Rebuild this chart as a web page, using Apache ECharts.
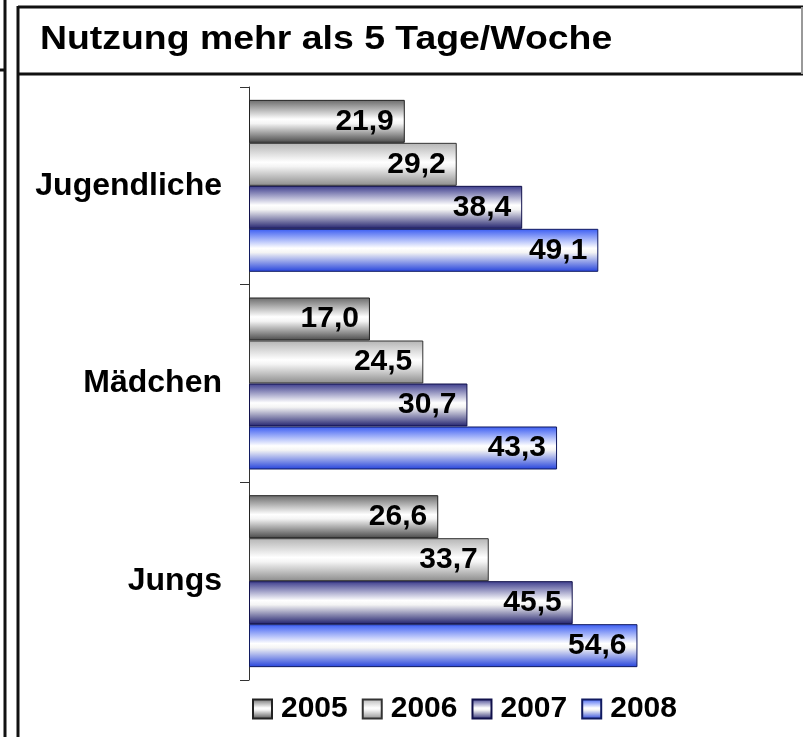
<!DOCTYPE html>
<html>
<head>
<meta charset="utf-8">
<style>
  html, body { margin: 0; padding: 0; background: #fff; }
  #chart { width: 803px; height: 737px; }
</style>
<script src="https://cdn.jsdelivr.net/npm/echarts@6/dist/echarts.min.js"></script>
</head>
<body>
<div id="chart"></div>
<script>
const titleText = 'Nutzung mehr als 5 Tage/Woche';
const groups = ['Jugendliche', 'Mädchen', 'Jungs'];
const years = ['2005', '2006', '2007', '2008'];
const v2005 = [21.9, 17.0, 26.6];
const v2006 = [29.2, 24.5, 33.7];
const v2007 = [38.4, 30.7, 45.5];
const v2008 = [49.1, 43.3, 54.6];
const values = [v2005, v2006, v2007, v2008];

// top edge, bottom edge, border of the shaded bars
const shades = [
  ['#6a6a6a', '#4a4a4a', '#222'],
  ['#b4b4b4', '#8c8c8c', '#333'],
  ['#3c3c8c', '#22226e', '#10104a'],
  ['#3a5cf2', '#2442dc', '#101a60']
];

const font = '"Liberation Sans", Arial, sans-serif';

function shade(i) {
  return new echarts.graphic.LinearGradient(0, 0, 0, 1, [
    { offset: 0, color: shades[i][0] },
    { offset: 0.45, color: '#ffffff' },
    { offset: 0.55, color: '#f4f4f4' },
    { offset: 1, color: shades[i][1] }
  ]);
}

const chart = echarts.init(document.getElementById('chart'));

const series = years.map((y, i) => ({
  name: y,
  type: 'bar',
  data: values[i],
  barGap: '0%',
  barCategoryGap: '13%',
  itemStyle: { color: shade(i), borderColor: shades[i][2], borderWidth: 1 },
  label: {
    show: true,
    position: 'insideRight',
    distance: 11,
    color: '#000',
    fontFamily: font,
    fontWeight: 'bold',
    fontSize: 30,
    formatter: p => p.value.toFixed(1).replace('.', ',')
  }
}));

const line = (x1, y1, x2, y2, color, w) => ({
  type: 'line',
  shape: { x1: x1, y1: y1, x2: x2, y2: y2 },
  style: { stroke: color, lineWidth: w },
  silent: true
});

chart.setOption({
  backgroundColor: '#fff',
  animation: false,
  grid: { left: 249, top: 87, width: 498, height: 593 },
  xAxis: { type: 'value', min: 0, max: 70, show: false },
  yAxis: {
    type: 'category',
    data: groups,
    inverse: true,
    axisLine: { show: true, lineStyle: { color: '#333', width: 1 } },
    axisTick: { show: true, length: 9, lineStyle: { color: '#333', width: 1 } },
    axisLabel: {
      margin: 27,
      color: '#000',
      fontFamily: font,
      fontWeight: 'bold',
      fontSize: 32
    }
  },
  legend: {
    data: years,
    left: 252,
    top: 694,
    padding: 0,
    icon: 'rect',
    itemWidth: 19,
    itemHeight: 19,
    itemGap: 14,
    textStyle: {
      color: '#000',
      fontFamily: font,
      fontWeight: 'bold',
      fontSize: 30,
      lineHeight: 30,
      padding: [0, 0, 0, 4]
    }
  },
  graphic: [
    // neighbouring panel edge
    line(5, 0, 5, 737, '#111', 3),
    line(0, 70, 5, 70, '#111', 3),
    // frame of this panel
    line(18, 6, 18, 737, '#111', 3),
    line(18, 7, 803, 7, '#111', 3),
    line(18, 74, 803, 74, '#111', 3),
    line(802, 7, 802, 74, '#999', 2),
    {
      type: 'text',
      x: 40,
      y: 40,
      scaleX: 1.1,
      style: {
        text: titleText,
        font: 'bold 34px ' + font,
        fill: '#000',
        align: 'left',
        verticalAlign: 'middle'
      }
    }
  ],
  series: series
});
</script>
</body>
</html>
